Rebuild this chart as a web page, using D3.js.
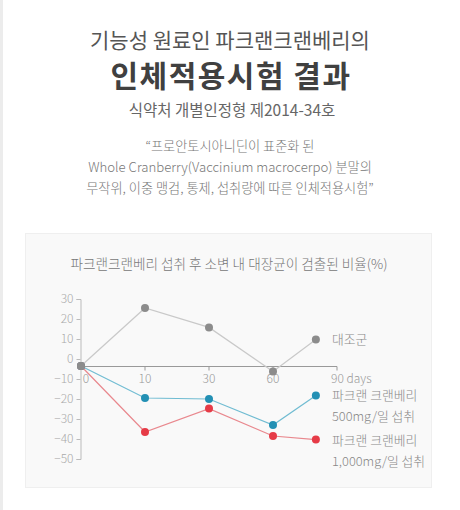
<!DOCTYPE html>
<html><head><meta charset="utf-8">
<script src="https://cdn.jsdelivr.net/npm/d3@7/dist/d3.min.js"></script>
<style>
html,body{margin:0;padding:0;background:#fff;}
svg{display:block;}
text{font-family:"Noto Sans CJK KR","Noto Sans",sans-serif;}
</style></head>
<body>
<svg id="c" width="460" height="510"></svg>
<script>
const dayLabels = ["0", "10", "30", "60", "90 days"];
const pointIndex = [0, 1, 2, 3, 3.67];
const control = [-3.5, 25.5, 15.8, -6.3, 9.8];
const dose500 = [-3.5, -19.5, -20, -33, -18.2];
const dose1000 = [-3.5, -36.5, -24.8, -38.5, -40.3];
const yTicks = [30, 20, 10, 0, -10, -20, -30, -40, -50];
const seriesNames = [["대조군"], ["파크랜 크랜베리", "500mg/일 섭취"], ["파크랜 크랜베리", "1,000mg/일 섭취"]];
const headline = ["기능성 원료인 파크랜크랜베리의", "인체적용시험 결과", "식약처 개별인정형 제2014-34호"];
const quote = ["“프로안토시아니딘이 표준화 된", "Whole Cranberry(Vaccinium macrocerpo) 분말의", "무작위, 이중 맹검, 통제, 섭취량에 따른 인체적용시험”"];
const chartTitle = "파크랜크랜베리 섭취 후 소변 내 대장균이 검출된 비율(%)";

const svg = d3.select("#c");
svg.append("rect").attr("x",0).attr("y",0).attr("width",3).attr("height",510).attr("fill","#ececec");

svg.append("text").attr("x",230).attr("y",48).attr("text-anchor","middle")
  .attr("font-size",21).attr("font-weight",400).attr("fill","#555").text(headline[0]);
svg.append("text").attr("x",231).attr("y",87).attr("text-anchor","middle")
  .attr("font-size",30).attr("font-weight",700).attr("letter-spacing",1.5).attr("fill","#404040").text(headline[1]);
svg.append("text").attr("x",232).attr("y",116).attr("text-anchor","middle")
  .attr("font-size",15.5).attr("font-weight",400).attr("fill","#666").text(headline[2]);

quote.forEach((q,i)=>{
  svg.append("text").attr("x",230).attr("y",151+i*21).attr("text-anchor","middle")
    .attr("font-size",13.2).attr("font-weight",300).attr("fill","#777").text(q);
});

// panel
svg.append("rect").attr("x",25.5).attr("y",233.5).attr("width",406).attr("height",254)
  .attr("fill","#f9f9f9").attr("stroke","#efefef");

svg.append("text").attr("x",229).attr("y",269).attr("text-anchor","middle")
  .attr("font-size",13.6).attr("font-weight",300).attr("fill","#777").text(chartTitle);

const y = d3.scaleLinear().domain([-50,30]).range([459,299]);
const x = d3.scaleLinear().domain([0,4]).range([81,337]);

// y axis
const ya = svg.append("g").attr("transform","translate(80.5,0)")
  .call(d3.axisLeft(y).tickValues(yTicks).tickSize(4).tickPadding(3).tickFormat(d3.format("d")));
ya.select(".domain").attr("stroke","#bbb");
ya.selectAll(".tick line").attr("stroke","#bbb");
ya.selectAll(".tick text").attr("fill","#aaa").attr("font-size",12).attr("font-family","'Noto Sans CJK KR',sans-serif").attr("font-weight",300);

// x axis
const axisY = Math.round(y(control[0]))+0.5;
const xa = svg.append("g").attr("transform",`translate(0,${axisY})`);
xa.append("line").attr("x1",x(0)).attr("x2",x(4)).attr("y1",0).attr("y2",0).attr("stroke","#999");
dayLabels.forEach((lab,i)=>{
  if(i>0) xa.append("line").attr("x1",x(i)).attr("x2",x(i)).attr("y1",0).attr("y2",4).attr("stroke","#999");
  xa.append("text").attr("x", i===0 ? x(i)+5 : (i===4 ? x(i)-6 : x(i)))
    .attr("y",16).attr("text-anchor", i===4 ? "start" : "middle")
    .attr("font-size",12).attr("font-weight",300).attr("fill","#999").text(lab);
});

const series = [
  {vals:dose1000, line:"#e9888e", pt:"#e63b47"},
  {vals:dose500, line:"#70bcd2", pt:"#2390b4"},
  {vals:control, line:"#c9c9c9", pt:"#8c8c8c"}
];
const line = d3.line().x((d,i)=>x(pointIndex[i])).y(d=>y(d));
series.forEach(s=>{
  svg.append("path").datum(s.vals).attr("d",line).attr("fill","none").attr("stroke",s.line).attr("stroke-width",1.2);
  svg.selectAll(null).data(s.vals).enter().append("circle")
    .attr("cx",(d,i)=>x(pointIndex[i])).attr("cy",d=>y(d)).attr("r",4).attr("fill",s.pt);
});
svg.append("circle").attr("cx",x(pointIndex[0])).attr("cy",y(control[0])).attr("r",4).attr("fill","#8c8c8c");

// labels
const labelRefs = [control, dose500, dose1000];
labelRefs.forEach((vals,k)=>{
  const cy = y(vals[4]);
  seriesNames[k].forEach((t,j)=>{
    svg.append("text").attr("x",332).attr("y",cy+5+j*21)
      .attr("font-size",12.8).attr("font-weight",300).attr("fill","#888").text(t);
  });
});
</script>
</body></html>
